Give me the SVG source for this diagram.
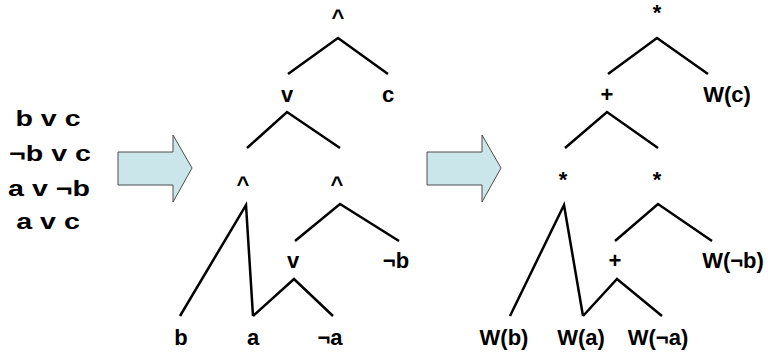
<svg xmlns="http://www.w3.org/2000/svg" width="768" height="358" viewBox="0 0 768 358">
<style>
text { font-family: "Liberation Sans", Arial, sans-serif; font-weight: bold; font-size: 22px; fill: #000; text-anchor: middle; }
.edge { stroke: #000; stroke-width: 2.5; fill: none; stroke-linecap: butt; }
.arrow { fill: #CBE6EA; stroke: #4d4d4d; stroke-width: 1; }
</style>
<rect width="768" height="358" fill="#fff"/>
<g id="clauses">
<g transform="translate(48,126) scale(1.3,1)"><text x="0" y="0">b v c</text></g>
<g transform="translate(50,161) scale(1.3,1)"><text x="0" y="0">¬b v c</text></g>
<g transform="translate(49,196) scale(1.3,1)"><text x="0" y="0">a v ¬b</text></g>
<g transform="translate(48,229) scale(1.3,1)"><text x="0" y="0">a v c</text></g>
</g>
<g id="arrow1"><path class="arrow" d="M118,152 H173 V135 L192,168 L173,202 V185 H118 Z"/></g>
<g id="arrow2"><path class="arrow" d="M427,152 H482 V135 L501,168 L482,202 V185 H427 Z"/></g>
<g id="connectors">
<polyline class="edge" points="288,74 338,38 388,74"/>
<polyline class="edge" points="247,148 287,112 340,148"/>
<polyline class="edge" points="180,316 246,205 253,316"/>
<polyline class="edge" points="253,316 294,279 333,316"/>
<polyline class="edge" points="295,241 340,204 399,241"/>
<polyline class="edge" points="608,74 657,38 708,74"/>
<polyline class="edge" points="565,148 607,112 658,148"/>
<polyline class="edge" points="510,316 564,205 583,316"/>
<polyline class="edge" points="583,316 617,279 662,316"/>
<polyline class="edge" points="615,241 658,204 712,241"/>
</g>
<g id="tree1">
<g id="t1-and-root"><text x="338" y="25">^</text></g>
<g id="t1-or"><text x="287" y="102">v</text></g>
<g id="t1-c"><text x="388" y="102">c</text></g>
<g id="t1-and-left"><text x="243" y="192">^</text></g>
<g id="t1-and-right"><text x="337" y="192">^</text></g>
<g id="t1-or2"><text x="293" y="268">v</text></g>
<g id="t1-notb"><text x="396" y="268">¬b</text></g>
<g id="t1-b"><text x="181" y="345">b</text></g>
<g id="t1-a"><text x="253" y="345">a</text></g>
<g id="t1-nota"><text x="330" y="345">¬a</text></g>
</g>
<g id="tree2">
<g id="t2-mul-root"><text x="657" y="20">*</text></g>
<g id="t2-plus"><text x="607" y="102">+</text></g>
<g id="t2-wc"><text x="727" y="102">W(c)</text></g>
<g id="t2-mul-left"><text x="563" y="187">*</text></g>
<g id="t2-mul-right"><text x="657" y="187">*</text></g>
<g id="t2-plus2"><text x="615" y="268">+</text></g>
<g id="t2-wnotb"><text x="733" y="268">W(¬b)</text></g>
<g id="t2-wb"><text x="504" y="345">W(b)</text></g>
<g id="t2-wa"><text x="581" y="345">W(a)</text></g>
<g id="t2-wnota"><text x="658" y="345">W(¬a)</text></g>
</g>
</svg>
